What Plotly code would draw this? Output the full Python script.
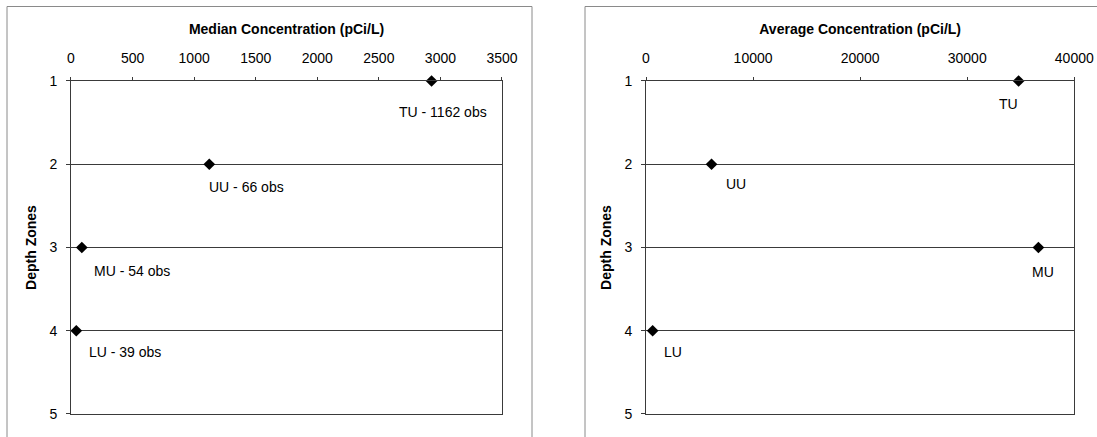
import plotly.graph_objects as go

zones = ["TU", "UU", "MU", "LU"]
depth_zone = [1, 2, 3, 4]
obs_counts = [1162, 66, 54, 39]
median_conc = [2928, 1123, 88, 43]
average_conc = [34800, 6120, 36650, 620]
median_ticks = [0, 500, 1000, 1500, 2000, 2500, 3000, 3500]
average_ticks = [0, 10000, 20000, 30000, 40000]
depth_ticks = [1, 2, 3, 4, 5]

FONT = "Liberation Sans, Arial, sans-serif"
LINE = "#3a3a3a"
FS = 14

fig = go.Figure()
fig.add_trace(go.Scatter(x=median_conc, y=depth_zone, mode="markers",
                         marker=dict(symbol="diamond", size=9, color="black"),
                         xaxis="x", yaxis="y", cliponaxis=False, showlegend=False))
fig.add_trace(go.Scatter(x=average_conc, y=depth_zone, mode="markers",
                         marker=dict(symbol="diamond", size=9, color="black"),
                         xaxis="x2", yaxis="y2", cliponaxis=False, showlegend=False))

ydom = [0.05263, 0.81465]
common_x = dict(side="top", showgrid=False, zeroline=False, showline=True, linecolor=LINE,
                linewidth=1, mirror=True, ticks="outside", ticklen=3, tickcolor=LINE,
                tickformat="d", automargin=False,
                tickfont=dict(family=FONT, size=FS, color="black"), ticklabelstandoff=8)
common_y = dict(autorange=False, range=[5, 1], tickvals=depth_ticks, showgrid=True,
                gridcolor=LINE, gridwidth=1, zeroline=False, showline=True, linecolor=LINE,
                linewidth=1, mirror=True, ticks="outside", ticklen=4, tickcolor=LINE,
                automargin=False,
                tickfont=dict(family=FONT, size=FS, color="black"), ticklabelstandoff=6)

fig.update_layout(
    width=1097, height=437, margin=dict(l=0, r=0, t=0, b=0, autoexpand=False),
    paper_bgcolor="white", plot_bgcolor="white", showlegend=False,
    xaxis=dict(domain=[0.06472, 0.45761], range=[0, 3500], tickvals=median_ticks,
               anchor="y",
               title=dict(text="<b>Median Concentration (pCi/L)</b>", standoff=12,
                          font=dict(family=FONT, size=FS, color="black")), **common_x),
    xaxis2=dict(domain=[0.58888, 0.97931], range=[0, 40000], tickvals=average_ticks,
                anchor="y2",
                title=dict(text="<b>Average Concentration (pCi/L)</b>", standoff=12,
                           font=dict(family=FONT, size=FS, color="black")), **common_x),
    yaxis=dict(domain=ydom, anchor="x",
               title=dict(text="<b>Depth Zones</b>", standoff=9,
                          font=dict(family=FONT, size=FS, color="black")), **common_y),
    yaxis2=dict(domain=ydom, anchor="x2",
                title=dict(text="<b>Depth Zones</b>", standoff=9,
                           font=dict(family=FONT, size=FS, color="black")), **common_y),
)

left_shift = [(11, -31), (37, -23), (50, -24), (49, -21)]
right_shift = [(-10, -23), (24, -20), (5, -25), (20, -21)]
anns = []
for z, d, n, m, (dx, dy) in zip(zones, depth_zone, obs_counts, median_conc, left_shift):
    anns.append(dict(x=m, y=d, xref="x", yref="y", text=f"{z} - {n} obs", showarrow=False,
                     xshift=dx, yshift=dy, font=dict(family=FONT, size=FS, color="black")))
for z, d, a, (dx, dy) in zip(zones, depth_zone, average_conc, right_shift):
    anns.append(dict(x=a, y=d, xref="x2", yref="y2", text=z, showarrow=False,
                     xshift=dx, yshift=dy, font=dict(family=FONT, size=FS, color="black")))
fig.update_layout(annotations=anns)

# outer chart-area frames (pixel positions converted to paper fractions)
W, H = 1097.0, 437.0
def px(x):
    return x / W
def py(y):
    return 1 - y / H
BOX = "#8a8a8a"
shapes = [
    dict(type="line", xref="paper", yref="paper", x0=px(7), x1=px(532), y0=py(6.5), y1=py(6.5), line=dict(color=BOX, width=1)),
    dict(type="line", xref="paper", yref="paper", x0=px(7), x1=px(7), y0=py(6.5), y1=py(440), line=dict(color=BOX, width=1)),
    dict(type="line", xref="paper", yref="paper", x0=px(532), x1=px(532), y0=py(6.5), y1=py(440), line=dict(color=BOX, width=1)),
    dict(type="line", xref="paper", yref="paper", x0=px(585), x1=px(1100), y0=py(6.5), y1=py(6.5), line=dict(color=BOX, width=1)),
    dict(type="line", xref="paper", yref="paper", x0=px(585), x1=px(585), y0=py(6.5), y1=py(440), line=dict(color=BOX, width=1)),
]
fig.update_layout(shapes=shapes)

fig.write_html("out.html", config={"displayModeBar": False},
               post_script="document.body.style.margin='0';document.body.style.padding='0';"
                           "document.body.style.overflow='hidden';")
